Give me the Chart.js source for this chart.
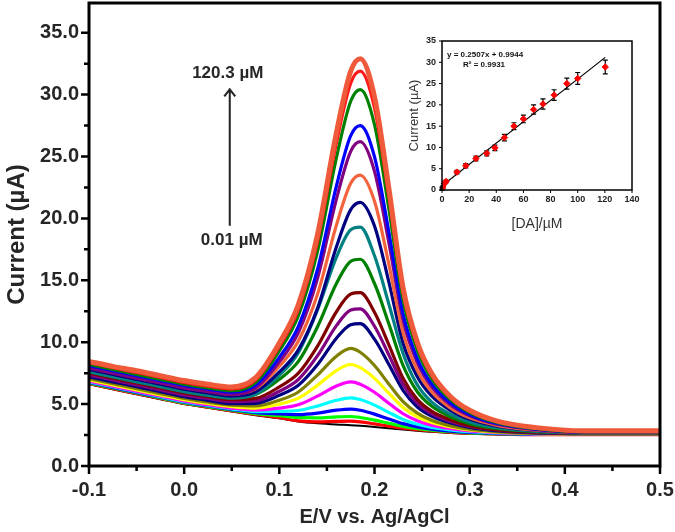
<!DOCTYPE html>
<html>
<head>
<meta charset="utf-8">
<script src="https://cdn.jsdelivr.net/npm/chart.js@4.4.1/dist/chart.umd.min.js"></script>
<style>
  html, body { margin: 0; padding: 0; background: #fff; }
  #wrap { position: relative; width: 675px; height: 532px; }
  #main { position: absolute; left: 0; top: 0; }
  #inset { position: absolute; left: 395px; top: 28px; }
</style>
</head>
<body>
<div id="wrap">
  <canvas id="main" width="675" height="532"></canvas>
  <canvas id="inset" width="250" height="222"></canvas>
</div>
<script>
// potential (V vs. Ag/AgCl) shared by all DPV curves
const potential = [-0.1, -0.075, -0.05, -0.025, 0, 0.025, 0.05, 0.075, 0.1, 0.12, 0.14, 0.16, 0.175,
                   0.185, 0.2, 0.215, 0.23, 0.245, 0.26, 0.28, 0.3, 0.33, 0.37, 0.42, 0.5];

// DPV currents (uA), lowest to highest DA concentration
const curve01 = [6.6, 6.2, 5.8, 5.4, 5.0, 4.7, 4.4, 4.1, 3.85, 3.6, 3.45, 3.35, 3.3, 3.25, 3.15, 3.05, 2.95, 2.84, 2.76, 2.67, 2.6, 2.55, 2.5, 2.5, 2.5];
const curve02 = [6.65, 6.25, 5.85, 5.45, 5.05, 4.75, 4.45, 4.17, 3.9, 3.65, 3.56, 3.6, 3.62, 3.57, 3.4, 3.22, 3.05, 2.93, 2.83, 2.72, 2.65, 2.58, 2.53, 2.53, 2.53];
const curve03 = [6.7, 6.3, 5.9, 5.5, 5.1, 4.8, 4.51, 4.23, 4.06, 3.92, 3.89, 3.97, 4.0, 3.92, 3.71, 3.45, 3.2, 3.02, 2.9, 2.77, 2.68, 2.61, 2.55, 2.55, 2.55];
const curve04 = [6.75, 6.35, 5.95, 5.55, 5.15, 4.85, 4.56, 4.31, 4.21, 4.15, 4.27, 4.51, 4.6, 4.5, 4.19, 3.8, 3.42, 3.16, 2.98, 2.82, 2.71, 2.62, 2.55, 2.55, 2.55];
const curve05 = [6.8, 6.4, 6.0, 5.6, 5.2, 4.9, 4.62, 4.4, 4.41, 4.48, 4.84, 5.31, 5.5, 5.37, 4.92, 4.33, 3.76, 3.37, 3.12, 2.92, 2.77, 2.67, 2.59, 2.58, 2.58];
const curve06 = [6.85, 6.45, 6.05, 5.65, 5.25, 4.95, 4.68, 4.52, 4.67, 4.94, 5.64, 6.46, 6.8, 6.61, 5.96, 5.07, 4.22, 3.66, 3.3, 3.02, 2.83, 2.69, 2.6, 2.58, 2.58];
const curve07 = [6.95, 6.55, 6.15, 5.75, 5.35, 5.05, 4.8, 4.68, 5.0, 5.48, 6.51, 7.71, 8.2, 7.94, 7.08, 5.88, 4.73, 3.97, 3.51, 3.15, 2.91, 2.73, 2.62, 2.6, 2.6];
const curve08 = [7.05, 6.65, 6.25, 5.85, 5.45, 5.15, 4.91, 4.85, 5.31, 5.98, 7.34, 8.87, 9.5, 9.19, 8.12, 6.63, 5.2, 4.27, 3.69, 3.24, 2.97, 2.76, 2.63, 2.6, 2.6];
const curve09 = [7.2, 6.8, 6.4, 6.0, 5.6, 5.3, 5.04, 5.06, 5.71, 6.52, 8.17, 10.32, 11.41, 11.5, 10.25, 8.22, 6.11, 4.77, 4.04, 3.47, 3.12, 2.84, 2.68, 2.62, 2.62];
const curve10 = [7.35, 6.95, 6.55, 6.15, 5.75, 5.45, 5.2, 5.26, 6.04, 6.99, 8.89, 11.34, 12.6, 12.7, 11.29, 8.99, 6.59, 5.08, 4.24, 3.6, 3.2, 2.9, 2.72, 2.65, 2.65];
const curve11 = [7.5, 7.1, 6.7, 6.3, 5.9, 5.6, 5.35, 5.46, 6.39, 7.5, 9.67, 12.46, 13.89, 14.0, 12.42, 9.81, 7.09, 5.38, 4.43, 3.72, 3.26, 2.92, 2.73, 2.65, 2.65];
const curve12 = [7.7, 7.3, 6.9, 6.5, 6.1, 5.8, 5.56, 5.78, 7.0, 8.45, 11.23, 14.74, 16.53, 16.7, 14.74, 11.5, 8.13, 6.0, 4.84, 3.96, 3.42, 3.01, 2.78, 2.68, 2.68];
const curve13 = [7.6, 7.2, 6.8, 6.4, 6.0, 5.7, 5.48, 5.8, 7.32, 9.16, 12.58, 16.87, 19.08, 19.3, 16.98, 13.11, 9.09, 6.55, 5.18, 4.17, 3.55, 3.07, 2.8, 2.68, 2.68];
const curve14 = [7.8, 7.4, 7.0, 6.6, 6.2, 5.9, 5.65, 5.99, 7.6, 9.38, 12.71, 17.71, 20.71, 21.3, 19.39, 14.89, 9.93, 7.21, 5.66, 4.48, 3.77, 3.2, 2.87, 2.7, 2.7];
const curve15 = [7.95, 7.55, 7.15, 6.75, 6.35, 6.05, 5.81, 6.23, 8.06, 10.09, 13.85, 19.47, 22.83, 23.5, 21.38, 16.33, 10.77, 7.73, 6.0, 4.68, 3.89, 3.26, 2.89, 2.7, 2.7];
const curve16 = [7.9, 7.5, 7.1, 6.7, 6.3, 6.0, 5.77, 6.29, 8.41, 10.77, 15.12, 21.56, 25.42, 26.2, 23.8, 18.08, 11.79, 8.35, 6.4, 4.93, 4.06, 3.35, 2.94, 2.72, 2.72];
const curve17 = [8.1, 7.7, 7.3, 6.9, 6.5, 6.2, 5.97, 6.53, 8.78, 11.28, 15.85, 22.63, 26.68, 27.5, 24.98, 18.94, 12.32, 8.68, 6.63, 5.08, 4.16, 3.41, 2.98, 2.75, 2.75];
const curve18 = [8.2, 7.8, 7.4, 7.0, 6.6, 6.3, 6.08, 6.75, 9.3, 12.14, 17.29, 24.91, 29.46, 30.4, 27.58, 20.83, 13.41, 9.35, 7.06, 5.34, 4.32, 3.48, 3.01, 2.75, 2.75];
const curve19 = [8.35, 7.95, 7.55, 7.15, 6.75, 6.45, 6.23, 6.95, 9.65, 12.64, 18.09, 26.11, 30.92, 31.9, 28.93, 21.82, 14.0, 9.73, 7.32, 5.5, 4.42, 3.55, 3.06, 2.78, 2.78];
const curve20 = [8.45, 8.05, 7.7, 7.3, 6.9, 6.6, 6.39, 7.14, 9.94, 13.03, 18.65, 26.93, 31.89, 32.9, 29.83, 22.49, 14.4, 10.0, 7.5, 5.6, 4.5, 3.6, 3.1, 2.85, 2.85];

const lineColors = ['#000000', '#ff0000', '#00ff00', '#0000ff', '#00ffff', '#ff00ff', '#ffff00',
                    '#808000', '#000080', '#800080', '#800000', '#008000', '#008080', '#000080',
                    '#f4643c', '#800080', '#0000ff', '#008000', '#ff1a1a', '#ef5a3a'];

// axis ticks of the main plot
const xMajor = [-0.1, 0, 0.1, 0.2, 0.3, 0.4, 0.5];
const xMinor = [-0.05, 0.05, 0.15, 0.25, 0.35, 0.45];
const yMajor = [0, 5, 10, 15, 20, 25, 30, 35];
const yMinor = [2.5, 7.5, 12.5, 17.5, 22.5, 27.5, 32.5];

// calibration inset
const concentration = [0.01, 0.1, 0.5, 1, 2, 3, 11, 17.5, 25, 33, 39, 46, 53, 60, 67.5, 74.4, 82.6, 92, 100, 120.3];
const peakCurrent = [0.2, 0.4, 0.7, 1.2, 1.6, 2.0, 4.2, 5.7, 7.4, 8.6, 9.9, 12.3, 15.0, 16.7, 18.9, 20.2, 22.3, 25.0, 26.2, 28.9];
const errorBar = [0.3, 0.3, 0.3, 0.3, 0.3, 0.3, 0.4, 0.5, 0.55, 0.6, 0.65, 0.75, 0.8, 0.9, 1.1, 1.2, 1.25, 1.3, 1.4, 1.6];
const fitX = [0, 120.3];
const fitY = [0.99, 31.15];
const insetXTicks = [0, 20, 40, 60, 80, 100, 120, 140];
const insetYTicks = [0, 5, 10, 15, 20, 25, 30, 35];

const FONT = '"Liberation Sans", Arial, sans-serif';
const TXT = '#262626';

const curves = [curve01, curve02, curve03, curve04, curve05, curve06, curve07, curve08, curve09, curve10,
                curve11, curve12, curve13, curve14, curve15, curve16, curve17, curve18, curve19, curve20];

const datasets = curves.map((c, i) => ({
    data: c.map((v, j) => ({x: potential[j], y: v})),
    borderColor: lineColors[i],
    borderWidth: i === 0 ? 2 : (i === curves.length - 1 ? 5 : 3.2),
    pointRadius: 0,
    cubicInterpolationMode: 'monotone',
    order: curves.length - i
}));

const fmt1 = v => (Math.abs(v) < 1e-9 ? 0 : v).toFixed(1);

// stop edge labels from shrinking the plot box
const noEdgePad = s => { s.paddingLeft = 0; s.paddingRight = 0; s.paddingTop = 0; s.paddingBottom = 0; };

// frame, outward ticks, arrow and labels on the main plot
const mainDecor = {
    id: 'mainDecor',
    afterDraw(chart) {
        const {ctx, chartArea: a, scales: {x, y}} = chart;
        ctx.save();
        ctx.strokeStyle = '#000';
        ctx.lineWidth = 3;
        ctx.strokeRect(a.left, a.top, a.right - a.left, a.bottom - a.top);
        ctx.lineWidth = 2.5;
        ctx.beginPath();
        yMajor.forEach(v => { const p = y.getPixelForValue(v); ctx.moveTo(a.left, p); ctx.lineTo(a.left - 8, p); });
        yMinor.forEach(v => { const p = y.getPixelForValue(v); ctx.moveTo(a.left, p); ctx.lineTo(a.left - 5, p); });
        xMajor.forEach(v => { const p = x.getPixelForValue(v); ctx.moveTo(p, a.bottom); ctx.lineTo(p, a.bottom + 8); });
        xMinor.forEach(v => { const p = x.getPixelForValue(v); ctx.moveTo(p, a.bottom); ctx.lineTo(p, a.bottom + 5); });
        ctx.stroke();

        // concentration arrow
        const ax = x.getPixelForValue(0.05) - 2;
        const aTop = y.getPixelForValue(30.5);
        const aBot = y.getPixelForValue(19.4);
        ctx.strokeStyle = '#222';
        ctx.lineWidth = 2;
        ctx.beginPath();
        ctx.moveTo(ax, aBot); ctx.lineTo(ax, aTop);
        ctx.moveTo(ax - 5.5, aTop + 8); ctx.lineTo(ax, aTop + 1); ctx.lineTo(ax + 5.5, aTop + 8);
        ctx.stroke();

        ctx.fillStyle = TXT;
        ctx.font = 'bold 17px ' + FONT;
        ctx.textAlign = 'center';
        ctx.textBaseline = 'middle';
        ctx.fillText('120.3 µM', ax - 2, y.getPixelForValue(31.7));
        ctx.fillText('0.01 µM', ax + 2, y.getPixelForValue(18.2));
        ctx.restore();
    }
};

new Chart(document.getElementById('main'), {
    type: 'line',
    data: {datasets},
    options: {
        responsive: false,
        animation: false,
        layout: {padding: {top: 3, right: 15, left: 0, bottom: 0}},
        plugins: {legend: {display: false}, tooltip: {enabled: false}},
        scales: {
            x: {
                type: 'linear', min: -0.1, max: 0.5,
                afterBuildTicks: s => { s.ticks = xMajor.map(v => ({value: v})); },
                afterFit: s => { s.height = 66; noEdgePad(s); },
                grid: {display: false, drawTicks: false},
                border: {display: false},
                ticks: {padding: 12, color: TXT, maxRotation: 0, autoSkip: false,
                        font: {family: FONT, size: 20, weight: 'bold'}, callback: v => fmt1(v)},
                title: {display: true, text: 'E/V vs. Ag/AgCl', color: TXT,
                        font: {family: FONT, size: 20, weight: 'bold'}, padding: {top: 0, bottom: 3}}
            },
            y: {
                type: 'linear', min: 0, max: 37.4,
                afterBuildTicks: s => { s.ticks = yMajor.map(v => ({value: v})); },
                afterFit: s => { s.width = 89; noEdgePad(s); },
                grid: {display: false, drawTicks: false},
                border: {display: false},
                ticks: {padding: 10, color: TXT, autoSkip: false,
                        font: {family: FONT, size: 20, weight: 'bold'}, callback: v => fmt1(v)},
                title: {display: true, text: 'Current (µA)', color: TXT,
                        font: {family: FONT, size: 24, weight: 'bold'}, padding: {top: 3, bottom: 0}}
            }
        }
    },
    plugins: [mainDecor]
});

// error bars, frame, ticks and equation for the inset
const insetDecor = {
    id: 'insetDecor',
    beforeDatasetsDraw(chart) {
        const {ctx, scales: {x, y}} = chart;
        ctx.save();
        ctx.strokeStyle = '#000';
        ctx.lineWidth = 1.2;
        ctx.beginPath();
        concentration.forEach((c, i) => {
            const px = x.getPixelForValue(c);
            const hi = y.getPixelForValue(peakCurrent[i] + errorBar[i]);
            const lo = y.getPixelForValue(peakCurrent[i] - errorBar[i]);
            ctx.moveTo(px, hi); ctx.lineTo(px, lo);
            ctx.moveTo(px - 2.5, hi); ctx.lineTo(px + 2.5, hi);
            ctx.moveTo(px - 2.5, lo); ctx.lineTo(px + 2.5, lo);
        });
        ctx.stroke();
        ctx.restore();
    },
    afterDraw(chart) {
        const {ctx, chartArea: a, scales: {x, y}} = chart;
        ctx.save();
        ctx.strokeStyle = '#000';
        ctx.lineWidth = 1.5;
        ctx.strokeRect(a.left, a.top, a.right - a.left, a.bottom - a.top);
        ctx.lineWidth = 1;
        ctx.beginPath();
        insetYTicks.forEach(v => { const p = y.getPixelForValue(v); ctx.moveTo(a.left, p); ctx.lineTo(a.left - 3, p); });
        insetXTicks.forEach(v => { const p = x.getPixelForValue(v); ctx.moveTo(p, a.bottom); ctx.lineTo(p, a.bottom + 3); });
        ctx.stroke();
        ctx.fillStyle = '#111';
        ctx.font = 'bold 8px ' + FONT;
        ctx.textAlign = 'left';
        ctx.textBaseline = 'middle';
        ctx.fillText('y = 0.2507x + 0.9944', x.getPixelForValue(3.7), y.getPixelForValue(31.8));
        ctx.fillText('R² = 0.9931', x.getPixelForValue(15.5), y.getPixelForValue(29.4));
        ctx.restore();
    }
};

new Chart(document.getElementById('inset'), {
    type: 'scatter',
    data: {
        datasets: [
            {
                data: concentration.map((c, i) => ({x: c, y: peakCurrent[i]})),
                backgroundColor: '#ff0000', borderColor: '#ff0000',
                pointStyle: 'rectRot', pointRadius: 3.2, order: 0
            },
            {
                type: 'line',
                data: fitX.map((v, i) => ({x: v, y: fitY[i]})),
                borderColor: '#000', borderWidth: 1.2, pointRadius: 0, order: 1
            }
        ]
    },
    options: {
        responsive: false,
        animation: false,
        layout: {padding: {top: 13, right: 13, left: 0, bottom: 0}},
        plugins: {legend: {display: false}, tooltip: {enabled: false}},
        scales: {
            x: {
                type: 'linear', min: 0, max: 140,
                afterBuildTicks: s => { s.ticks = insetXTicks.map(v => ({value: v})); },
                afterFit: s => { s.height = 60; noEdgePad(s); },
                grid: {display: false, drawTicks: false},
                border: {display: false},
                ticks: {padding: 4, color: '#222', maxRotation: 0, autoSkip: false,
                        font: {family: FONT, size: 9, weight: 'bold'}},
                title: {display: true, text: '[DA]/µM', color: '#333',
                        font: {family: FONT, size: 14}, padding: {top: 0, bottom: 17}}
            },
            y: {
                type: 'linear', min: 0, max: 35,
                afterBuildTicks: s => { s.ticks = insetYTicks.map(v => ({value: v})); },
                afterFit: s => { s.width = 47; noEdgePad(s); },
                grid: {display: false, drawTicks: false},
                border: {display: false},
                ticks: {padding: 6, color: '#222', autoSkip: false,
                        font: {family: FONT, size: 9, weight: 'bold'}},
                title: {display: true, text: 'Current (µA)', color: '#333',
                        font: {family: FONT, size: 13}, padding: {top: 12, bottom: 0}}
            }
        }
    },
    plugins: [insetDecor]
});
</script>
</body>
</html>
